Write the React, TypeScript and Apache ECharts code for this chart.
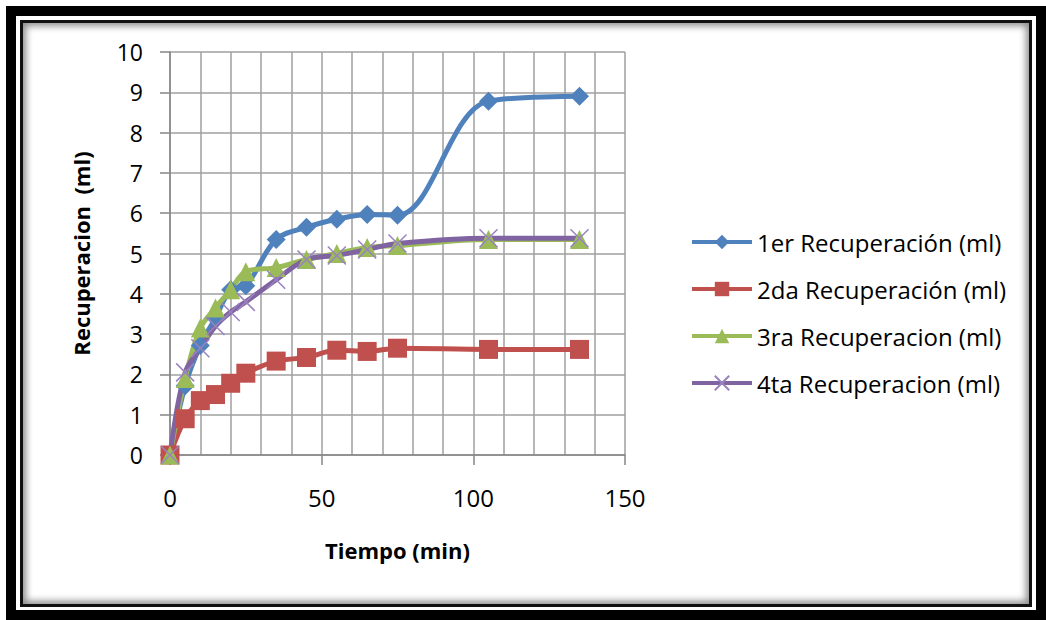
import React, { useEffect, useRef } from "react";
import * as echarts from "echarts";

const timeMin = [0, 5, 10, 15, 20, 25, 35, 45, 55, 65, 75, 105, 135];
const rec1 = [0, 1.72, 2.72, 3.4, 4.1, 4.2, 5.35, 5.65, 5.85, 5.97, 5.95, 8.78, 8.9];
const rec2 = [0, 0.9, 1.35, 1.5, 1.78, 2.03, 2.33, 2.42, 2.6, 2.57, 2.65, 2.62, 2.62];
const rec3 = [0, 1.9, 3.15, 3.65, 4.1, 4.55, 4.65, 4.85, 5.0, 5.15, 5.2, 5.35, 5.35];
const rec4 = [0, 2.05, 2.65, 3.2, 3.55, 3.8, 4.35, 4.85, 4.95, 5.1, 5.25, 5.38, 5.38];
const seriesNames = [
  "1er Recuperación (ml)",
  "2da Recuperación (ml)",
  "3ra Recuperacion (ml)",
  "4ta Recuperacion (ml)",
];
const xTitle = "Tiempo (min)";
const yTitle = "Recuperacion  (ml)";

const FONT = "Open Sans";
const GRID = "#9f9f9f";
const AXIS = "#868686";

function pairs(ys: number[]) {
  return timeMin.map((x, i) => [x, ys[i]]);
}

export default function App() {
  const ref = useRef<HTMLDivElement>(null);
  useEffect(() => {
    if (!ref.current) return;
    const chart = echarts.init(ref.current, null, { renderer: "svg" });
    const lineW = 5;
    const smooth = 0.35;
    chart.setOption({
      animation: false,
      backgroundColor: "transparent",
      textStyle: { fontFamily: FONT },
      grid: { left: 170, top: 52, right: 421, bottom: 165, containLabel: false },
      xAxis: {
        type: "value",
        min: 0,
        max: 150,
        interval: 50,
        name: xTitle,
        nameLocation: "middle",
        nameGap: 84,
        nameTextStyle: { fontFamily: FONT, fontSize: 22, fontWeight: "bold", color: "#000" },
        axisLine: { show: true, lineStyle: { color: AXIS, width: 1.5 } },
        axisTick: { show: true, inside: false, length: 10, lineStyle: { color: AXIS, width: 1.5 } },
        axisLabel: { margin: 30, fontFamily: FONT, fontSize: 24, color: "#000" },
        splitLine: { show: true, lineStyle: { color: GRID, width: 1.5 } },
        minorTick: { show: false, splitNumber: 5 },
        minorSplitLine: { show: true, lineStyle: { color: GRID, width: 1.5 } },
      },
      yAxis: {
        type: "value",
        min: 0,
        max: 10,
        interval: 1,
        name: yTitle,
        nameLocation: "middle",
        nameRotate: 90,
        nameGap: 78,
        nameTextStyle: { fontFamily: FONT, fontSize: 22, fontWeight: "bold", color: "#000" },
        axisLine: { show: true, lineStyle: { color: AXIS, width: 1.5 } },
        axisTick: { show: true, inside: false, length: 10, lineStyle: { color: AXIS, width: 1.5 } },
        axisLabel: { margin: 27, fontFamily: FONT, fontSize: 23, color: "#000" },
        splitLine: { show: true, lineStyle: { color: GRID, width: 1.5 } },
      },
      legend: {
        orient: "vertical",
        left: 685,
        top: 224,
        itemWidth: 60,
        itemHeight: 18,
        itemGap: 21,
        lineStyle: { width: 4 },
        textStyle: { fontFamily: FONT, fontSize: 24, color: "#000", lineHeight: 26 },
        data: seriesNames,
      },
      series: [
        {
          name: seriesNames[0],
          type: "line",
          data: pairs(rec1),
          smooth,
          symbol: "diamond",
          symbolSize: 19,
          lineStyle: { color: "#4F81BD", width: lineW },
          itemStyle: { color: "#4F81BD" },
        },
        {
          name: seriesNames[1],
          type: "line",
          data: pairs(rec2),
          smooth,
          symbol: "rect",
          symbolSize: 19,
          lineStyle: { color: "#C0504D", width: lineW },
          itemStyle: { color: "#C0504D" },
        },
        {
          name: seriesNames[2],
          type: "line",
          data: pairs(rec3),
          smooth,
          symbol: "triangle",
          symbolSize: 19,
          lineStyle: { color: "#9BBB59", width: lineW },
          itemStyle: { color: "#9BBB59" },
        },
        {
          name: seriesNames[3],
          type: "line",
          data: pairs(rec4),
          smooth,
          symbol: "path://M0,0L10,10M10,0L0,10",
          symbolSize: 18,
          lineStyle: { color: "#8064A2", width: lineW },
          itemStyle: { color: "#8064A2", borderColor: "#9a82bf", borderWidth: 1.5 },
        },
      ],
    });
    return () => chart.dispose();
  }, []);

  return (
    <div style={{ position: "fixed", left: 0, top: 0, width: 1046, height: 620, background: "#fff", overflow: "hidden" }}>
      <div
        style={{
          position: "absolute",
          left: 6,
          top: 6,
          width: 1040,
          height: 614,
          boxSizing: "border-box",
          border: "10px solid #000",
        }}
      />
      <div
        style={{
          position: "absolute",
          left: 20,
          top: 20,
          width: 1012,
          height: 587,
          boxSizing: "border-box",
          border: "3px solid #111",
          boxShadow: "inset 0 0 7px 3px rgba(0,0,0,0.45)",
        }}
      />
      <div ref={ref} style={{ position: "absolute", left: 0, top: 0, width: 1046, height: 620 }} />
    </div>
  );
}
